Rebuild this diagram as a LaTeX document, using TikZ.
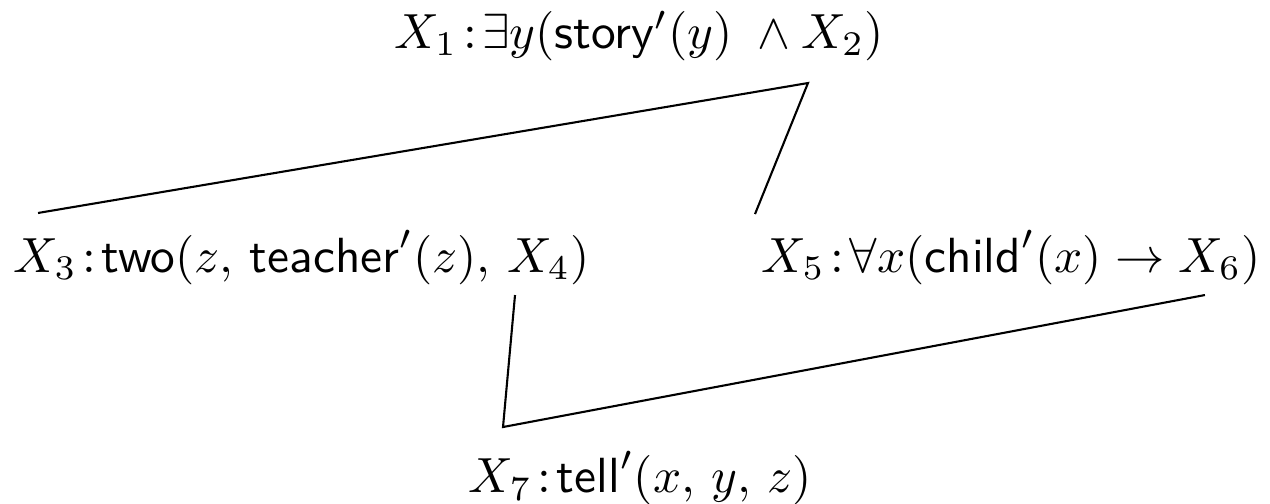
\documentclass[tikz,border=0pt]{standalone}
\usepackage{tikz}

\begin{document}
\begin{tikzpicture}
\useasboundingbox (0,0) rectangle (11.748,4.653);
\tikzset{frag/.style={anchor=base west, inner sep=0pt, scale=1.3, transform shape},
  dom/.style={line width=0.55pt}}
% fragments
\node[frag] (x1) at (3.640,4.209) {$X_1\!:\!\exists y(\textsf{story}'(y) \;\wedge X_2)$};
\node[frag] (x3) at (0.120,2.137) {$X_3\!:\!\textsf{two}(z,\,\textsf{teacher}'(z),\,X_4)$};
\node[frag] (x5) at (7.039,2.137) {$X_5\!:\!\forall x(\textsf{child}'(x) \rightarrow X_6)$};
\node[frag] (x7) at (4.329,0.093) {$X_7\!:\!\textsf{tell}'(x,\,y,\,z)$};
% holes and roots
\coordinate (h2) at (7.474,3.885);
\coordinate (h4) at (4.764,1.924);
\coordinate (h6) at (11.146,1.924);
\coordinate (r3) at (0.352,2.683);
\coordinate (r5) at (6.984,2.673);
\coordinate (r7) at (4.653,0.703);
% dominance edges
\draw[dom] (r3) -- (h2) -- (r5);
\draw[dom] (h4) -- (r7) -- (h6);
\end{tikzpicture}
\end{document}
